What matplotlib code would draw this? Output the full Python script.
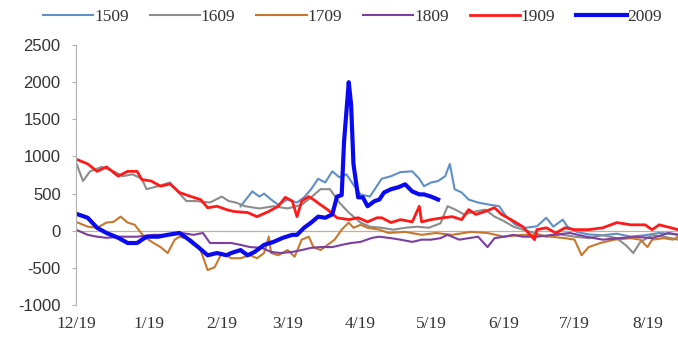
import matplotlib.pyplot as plt

plt.rcParams['axes.unicode_minus'] = False

# spread series, x = days counted from 12/19
days_1509 = [70, 73, 75, 78, 80, 83, 86, 90, 94, 97, 100, 103, 106, 109, 112, 115, 118, 121, 125, 130,
             134, 138, 143, 146, 148, 151, 154, 157, 159, 161, 164, 167, 171, 176, 180, 183, 187, 191,
             196, 200, 203, 207, 209, 213, 218, 224, 230, 236, 242, 248, 256]
vals_1509 = [330, 450, 530, 460, 500, 420, 350, 420, 380, 450, 560, 700, 650, 800, 720, 760, 620, 490, 460, 700,
             735, 790, 800, 700, 600, 650, 670, 735, 900, 560, 515, 420, 380, 350, 330, 190, 80, 40,
             60, 175, 55, 150, 55, -15, -50, -60, -40, -80, -60, -30, -50]

days_1609 = [0, 3, 6, 11, 16, 20, 24, 28, 30, 35, 40, 44, 47, 51, 57, 62, 65, 68, 72, 78, 84, 90, 96, 100,
             104, 108, 112, 116, 121, 125, 130, 135, 140, 145, 150, 155, 158, 161, 165, 170, 174, 178,
             182, 186, 190, 195, 200, 206, 212, 218, 224, 230, 234, 237, 240, 245, 250, 256]
vals_1609 = [925, 670, 800, 860, 800, 735, 760, 700, 560, 600, 650, 500, 400, 400, 380, 460, 400, 380, 330, 300,
             330, 300, 350, 450, 560, 560, 380, 245, 110, 55, 40, 15, 40, 55, 40, 100, 330, 290, 220, 260,
             285, 190, 130, 55, 15, -30, -80, -50, -80, -100, -60, -100, -200, -300, -150, -60, -80, -120]

days_1709 = [0, 5, 9, 13, 16, 19, 22, 25, 29, 33, 36, 39, 42, 44, 49, 53, 56, 59, 62, 65, 66, 70, 74, 77,
             80, 82, 83, 86, 90, 93, 96, 99, 101, 104, 107, 110, 113, 116, 118, 121, 124, 129, 133, 140,
             147, 153, 160, 168, 175, 182, 190, 196, 202, 208, 212, 215, 218, 223, 229, 236, 240, 243,
             245, 250, 254, 256]
vals_1709 = [120, 55, 40, 110, 120, 190, 110, 80, -80, -165, -220, -300, -120, -80, -120, -260, -530, -490,
             -300, -350, -370, -370, -330, -370, -300, -80, -300, -330, -260, -350, -120, -80, -220, -260,
             -190, -120, 15, 110, 40, 80, 40, 15, -30, -15, -55, -30, -55, -15, -30, -80, -55, -60, -80,
             -100, -120, -330, -220, -165, -120, -100, -120, -220, -120, -100, -120, -80]

days_1809 = [0, 5, 9, 13, 19, 26, 33, 40, 45, 50, 54, 57, 62, 66, 70, 74, 79, 83, 87, 92, 96, 100, 104,
             109, 113, 117, 121, 126, 129, 134, 138, 143, 147, 151, 155, 158, 163, 167, 171, 175, 178,
             182, 186, 190, 196, 210, 217, 224, 231, 238, 245, 252, 256]
vals_1809 = [15, -55, -80, -95, -80, -80, -55, -55, -30, -55, -30, -165, -165, -165, -190, -220, -230, -285,
             -300, -285, -260, -230, -220, -220, -190, -165, -150, -95, -80, -100, -120, -150, -120, -120,
             -100, -55, -120, -100, -80, -220, -100, -80, -55, -80, -80, -30, -80, -120, -100, -80, -100,
             -30, -55]

days_1909 = [0, 5, 9, 13, 18, 22, 26, 28, 32, 36, 40, 44, 49, 53, 56, 60, 64, 67, 73, 77, 82, 86, 89, 92,
             94, 96, 99, 101, 104, 107, 111, 116, 120, 124, 128, 130, 134, 138, 143, 146, 147, 151, 156,
             160, 164, 167, 170, 174, 178, 181, 185, 190, 195, 196, 200, 204, 208, 212, 218, 224, 230,
             236, 242, 245, 248, 253, 256]
vals_1909 = [965, 900, 800, 860, 735, 800, 800, 690, 670, 600, 630, 515, 460, 420, 310, 330, 285, 260, 245,
             190, 260, 330, 450, 400, 190, 400, 460, 420, 350, 285, 175, 150, 175, 120, 175, 175, 110, 150,
             120, 330, 120, 150, 175, 190, 150, 285, 220, 260, 310, 220, 150, 55, -120, 15, 40, -30, 40, 15,
             15, 40, 110, 80, 80, 15, 80, 40, 15]

days_2009 = [0, 5, 9, 13, 18, 22, 26, 30, 35, 39, 44, 47, 52, 56, 60, 64, 66, 70, 73, 76, 80, 84, 88, 92,
             94, 97, 100, 103, 106, 109, 111, 113, 114, 116, 117, 118, 120, 122, 124, 127, 129, 131, 134,
             137, 140, 143, 146, 148, 151, 154]
vals_2009 = [230, 175, 40, -30, -95, -165, -165, -80, -80, -55, -30, -95, -220, -330, -300, -330, -300, -260,
             -330, -285, -190, -150, -95, -55, -55, 40, 110, 190, 175, 220, 460, 480, 1200, 2000, 1700, 900,
             450, 450, 330, 400, 420, 515, 560, 585, 625, 530, 490, 490, 460, 420]

tick_days = [0, 31, 62, 90, 121, 151, 182, 212, 243]
tick_labels = ['12/19', '1/19', '2/19', '3/19', '4/19', '5/19', '6/19', '7/19', '8/19']

series = [
    ('1509', days_1509, vals_1509, '#5F8FC8', 1.5),
    ('1609', days_1609, vals_1609, '#8C8C8C', 1.5),
    ('1709', days_1709, vals_1709, '#C8782E', 1.5),
    ('1809', days_1809, vals_1809, '#7A3FA0', 1.5),
    ('1909', days_1909, vals_1909, '#FF1A1A', 2.0),
    ('2009', days_2009, vals_2009, '#0A0AF0', 3.0),
]

fig = plt.figure(figsize=(6.78, 3.47), dpi=100)
ax = fig.add_axes([0.112, 0.121, 0.888, 0.749])

ax.axhline(0, color='#C9AE8E', lw=0.9, zorder=1)
for name, d, v, c, lw in series:
    ax.plot(d, v, color=c, lw=lw, label=name, zorder=2)

ax.set_xlim(0, 256)
ax.set_ylim(-1000, 2500)
ax.set_yticks(range(-1000, 2501, 500))
ax.set_xticks(tick_days)
ax.set_xticklabels(tick_labels, family='Liberation Serif', fontsize=12.5, color='#333333')
for lab in ax.get_yticklabels():
    lab.set_family('Liberation Sans')
    lab.set_fontsize(12)
    lab.set_color('#333333')

for s in ['top', 'right', 'bottom']:
    ax.spines[s].set_visible(False)
ax.spines['left'].set_color('#B0B0B0')
ax.tick_params(axis='y', length=3, color='#B0B0B0', pad=8)
ax.tick_params(axis='x', length=0, pad=8)

leg = fig.legend(loc='upper center', bbox_to_anchor=(0.52, 1.02), ncol=6, frameon=False,
                 handlelength=2.9, handletextpad=0.05, columnspacing=1.2,
                 prop={'family': 'Liberation Serif', 'size': 12.5})
for t in leg.get_texts():
    t.set_color('#333333')

fig.savefig('out.png', dpi=100)
